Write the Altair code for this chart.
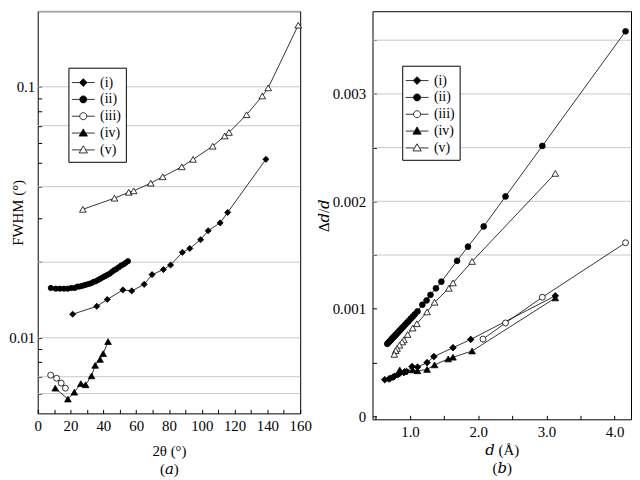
import altair as alt
import pandas as pd

LABELS = ["(i)", "(ii)", "(iii)", "(iv)", "(v)"]

# ---------- panel (a): FWHM vs 2theta ----------
A_I_X = [21.3, 36.0, 42.4, 51.9, 57.3, 64.9, 69.7, 76.6, 81.0, 88.2, 92.7, 99.3, 103.9, 111.2, 115.8, 139.1]
A_I_Y = [0.01242, 0.01335, 0.01422, 0.01552, 0.01538, 0.01633, 0.01786, 0.0187, 0.0195, 0.0219, 0.0227,
         0.0246, 0.0267, 0.0287, 0.0316, 0.0514]
A_II_X = [8.0, 11.0, 13.5, 16.0, 18.3, 20.5, 22.6, 24.2, 25.6, 27.0, 28.4, 29.8, 31.2, 32.6, 34.0, 35.4,
          36.8, 38.2, 39.6, 41.0, 42.4, 43.8, 45.2, 46.6, 48.0, 49.4, 50.8, 52.2, 53.6, 55.0]
A_II_Y = [0.0158, 0.0157, 0.0157, 0.0157, 0.0157, 0.0158, 0.0158, 0.0160, 0.0160, 0.0161, 0.0162, 0.0163,
          0.0164, 0.0165, 0.0167, 0.0168, 0.0170, 0.0172, 0.0174, 0.0176, 0.0178, 0.0180, 0.0183, 0.0186,
          0.0188, 0.0191, 0.0194, 0.0196, 0.0199, 0.0202]
A_III_X = [7.9, 11.5, 14.3, 16.9]
A_III_Y = [0.0071, 0.0069, 0.0066, 0.0063]
A_IV_X = [10.7, 18.4, 22.3, 26.3, 29.2, 32.8, 35.0, 38.0, 39.9, 42.9]
A_IV_Y = [0.0063, 0.0057, 0.00607, 0.00657, 0.0065, 0.00705, 0.00777, 0.0082, 0.00865, 0.00966]
A_V_X = [27.5, 46.8, 55.5, 58.5, 68.9, 76.2, 87.8, 94.7, 106.7, 114.0, 116.6, 127.3, 136.9, 140.5, 158.8]
A_V_Y = [0.0325, 0.036, 0.038, 0.0385, 0.0413, 0.0438, 0.048, 0.0514, 0.058, 0.0637, 0.0658, 0.0774,
         0.0919, 0.099, 0.176]
A_GRID = [0.2, 0.1, 0.07, 0.04, 0.02, 0.01, 0.007, 0.006]
A_XTICKS = [0, 10, 20, 30, 40, 50, 60, 70, 80, 90, 100, 110, 120, 130, 140, 150, 160]
A_YTICKS = [0.006, 0.007, 0.008, 0.009, 0.01, 0.02, 0.03, 0.04, 0.05, 0.06, 0.07, 0.08, 0.09, 0.1]

# ---------- panel (b): delta d / d vs d ----------
B_I_X = [0.63, 0.69, 0.71, 0.75, 0.77, 0.82, 0.85, 0.91, 0.95, 1.03, 1.11, 1.25, 1.35, 1.63, 1.89, 3.13]
B_I_Y = [0.000339, 0.000345, 0.000352, 0.000362, 0.00037, 0.000385, 0.000398, 0.000405, 0.000415,
         0.000461, 0.000456, 0.000498, 0.000554, 0.000637, 0.000714, 0.00112]
B_II_X = [4.16, 2.94, 2.40, 2.08, 1.85, 1.69, 1.46, 1.38, 1.30, 1.243, 1.181, 1.11, 1.07, 1.04, 1.01, 0.98,
          0.955, 0.93, 0.905, 0.88, 0.86, 0.84, 0.82, 0.80, 0.785, 0.77, 0.755, 0.74, 0.725, 0.71, 0.695,
          0.68, 0.667]
B_II_Y = [0.003583, 0.002516, 0.002045, 0.001766, 0.001578, 0.001446, 0.001252, 0.00119, 0.001129,
          0.001077, 0.001037, 0.000975, 0.000948, 0.000927, 0.000907, 0.000886, 0.000869, 0.000852,
          0.000835, 0.000818, 0.000805, 0.000791, 0.000777, 0.000764, 0.000753, 0.000743, 0.000733,
          0.000723, 0.000713, 0.000702, 0.000692, 0.000682, 0.000673]
B_III_X = [4.16, 2.94, 2.40, 2.07]
B_III_Y = [0.001614, 0.001107, 0.000867, 0.000717]
B_IV_X = [3.13, 1.91, 1.63, 1.56, 1.36, 1.25, 1.11, 1.04, 0.92, 0.85]
B_IV_Y = [0.0011, 0.000606, 0.000548, 0.000532, 0.000477, 0.000434, 0.000422, 0.00043, 0.000418, 0.00043]
B_V_X = [3.13, 1.91, 1.63, 1.57, 1.36, 1.25, 1.10, 1.04, 0.965, 0.91, 0.885, 0.845, 0.81, 0.79, 0.77]
B_V_Y = [0.00226, 0.00144, 0.00124, 0.00119, 0.00106, 0.00097, 0.00086, 0.00082, 0.00076, 0.00071,
         0.00069, 0.00066, 0.00063, 0.00061, 0.000575]
B_GRID = [0.0015, 0.002, 0.0025, 0.003, 0.0035]
B_XTICKS = [0.5, 1.0, 1.5, 2.0, 2.5, 3.0, 3.5, 4.0]
B_YTICKS = [0, 0.0005, 0.001, 0.0015, 0.002, 0.0025, 0.003, 0.0035]

FONT = "Liberation Serif, Times New Roman, DejaVu Serif, serif"
SHAPES = ["diamond", "circle", "circle", "triangle-up", "triangle-up"]
FILLS = ["black", "black", "white", "black", "white"]
SIZES_A = [38, 28, 36, 45, 45]
SIZES_B = [45, 34, 36, 45, 45]

# legend symbols: marker with a line through it
LEG_PATHS = [
    "M-1.24,0H-0.42M0.42,0H1.24M0,-0.42L0.42,0L0,0.42L-0.42,0Z",
    "M-1.24,0H-0.38M0.38,0H1.24M-0.38,0A0.38,0.38,0,1,1,0.38,0A0.38,0.38,0,1,1,-0.38,0Z",
    "M-1.24,0H-0.38M0.38,0H1.24M-0.38,0A0.38,0.38,0,1,1,0.38,0A0.38,0.38,0,1,1,-0.38,0Z",
    "M-1.24,0H-0.26M0.26,0H1.24M0,-0.45L0.45,0.33L-0.45,0.33Z",
    "M-1.24,0H-0.26M0.26,0H1.24M0,-0.45L0.45,0.33L-0.45,0.33Z",
]


def make_df(xs_list, ys_list):
    rows = []
    for lab, xs, ys in zip(LABELS, xs_list, ys_list):
        for xv, yv in zip(xs, ys):
            rows.append({"series": lab, "x": xv, "y": yv})
    return pd.DataFrame(rows)


def panel(df, grid, X, Y, sizes, lx, ly, w, h):
    layers = []
    layers.append(
        alt.Chart(pd.DataFrame({"y": grid}))
        .mark_rule(color="#c8c8c8", strokeWidth=1)
        .encode(y=Y)
    )
    layers.append(
        alt.Chart(df)
        .mark_line(color="black", strokeWidth=0.8)
        .encode(x=X, y=Y, detail="series:N")
    )
    for lab, shp, fil, sz in zip(LABELS, SHAPES, FILLS, sizes):
        layers.append(
            alt.Chart(df[df["series"] == lab])
            .mark_point(shape=shp, filled=True, fill=fil, stroke="black",
                        strokeWidth=0.8, size=sz, opacity=1)
            .encode(x=X, y=Y)
        )
    leg = alt.Legend(
        title=None, orient="none", legendX=lx, legendY=ly,
        strokeColor="black", fillColor="white", padding=5,
        labelFont=FONT, labelFontSize=14, labelColor="black", labelOffset=7,
        symbolSize=346, symbolStrokeColor="black", symbolStrokeWidth=0.8,
        symbolOpacity=1, rowPadding=0,
    )
    layers.append(
        alt.Chart(pd.DataFrame({"series": LABELS}))
        .transform_filter("false")
        .mark_point(filled=True, stroke="black", strokeWidth=0.8, opacity=1)
        .encode(
            shape=alt.Shape("series:N", scale=alt.Scale(domain=LABELS, range=LEG_PATHS), legend=leg),
            fill=alt.Fill("series:N", scale=alt.Scale(domain=LABELS, range=FILLS), legend=leg),
            stroke=alt.Stroke("series:N", scale=alt.Scale(domain=LABELS, range=["black"] * 5), legend=leg),
        )
    )
    return alt.layer(*layers).properties(width=w, height=h)


common_axis = dict(tickSize=4, offset=-4, domain=False, grid=False, tickColor="black",
                   titleLineHeight=18)

XA = alt.X("x:Q", scale=alt.Scale(domain=[0, 160], nice=False, zero=False),
           axis=alt.Axis(values=A_XTICKS, labelExpr="datum.value % 20 == 0 ? datum.label : ''",
                         labelPadding=5, title=["2θ (°)", "(𝑎)"], titlePadding=11, labelFlush=False,
                         **common_axis))
YA = alt.Y("y:Q", scale=alt.Scale(type="log", domain=[0.005, 0.2], nice=False),
           axis=alt.Axis(values=A_YTICKS, format="~g",
                         labelExpr="(datum.value == 0.01 || datum.value == 0.1) ? datum.label : ''",
                         labelPadding=3, title="FWHM (°)", titlePadding=-17, **common_axis))

XB = alt.X("x:Q", scale=alt.Scale(domain=[0.45, 4.24], nice=False, zero=False),
           axis=alt.Axis(values=B_XTICKS,
                         labelExpr="datum.value % 1 == 0 ? format(datum.value, '.1f') : ''",
                         labelPadding=5, title=["𝑑 (Å)", "(𝑏)"], titlePadding=4, labelFlush=False,
                         **common_axis))
YB = alt.Y("y:Q", scale=alt.Scale(domain=[-0.00003, 0.00377], nice=False, zero=False),
           axis=alt.Axis(values=B_YTICKS,
                         labelExpr="datum.value == 0 ? '0' : (abs(datum.value * 1000 - round(datum.value * 1000)) < 0.000001 ? format(datum.value, '.3f') : '')",
                         labelPadding=7, title="Δ𝑑/𝑑", titlePadding=1, **common_axis))

dfA = make_df([A_I_X, A_II_X, A_III_X, A_IV_X, A_V_X], [A_I_Y, A_II_Y, A_III_Y, A_IV_Y, A_V_Y])
dfB = make_df([B_I_X, B_II_X, B_III_X, B_IV_X, B_V_X], [B_I_Y, B_II_Y, B_III_Y, B_IV_Y, B_V_Y])

left = panel(dfA, A_GRID, XA, YA, SIZES_A, 31, 57, 265, 406)
right = panel(dfB, B_GRID, XB, YB, SIZES_B, 30, 55, 261, 412)

chart = (
    alt.hconcat(left, right, spacing=3)
    .resolve_scale(shape="independent", fill="independent", stroke="independent")
    .resolve_legend(shape="independent", fill="independent", stroke="independent")
    .properties(padding=0)
    .configure_view(stroke="black", strokeWidth=1)
    .configure_axis(labelFont=FONT, labelFontSize=15, labelColor="black",
                    titleFont=FONT, titleFontSize=15, titleFontWeight="normal", titleColor="black")
)

chart.save("out.html", embed_options={"renderer": "svg", "actions": False})
